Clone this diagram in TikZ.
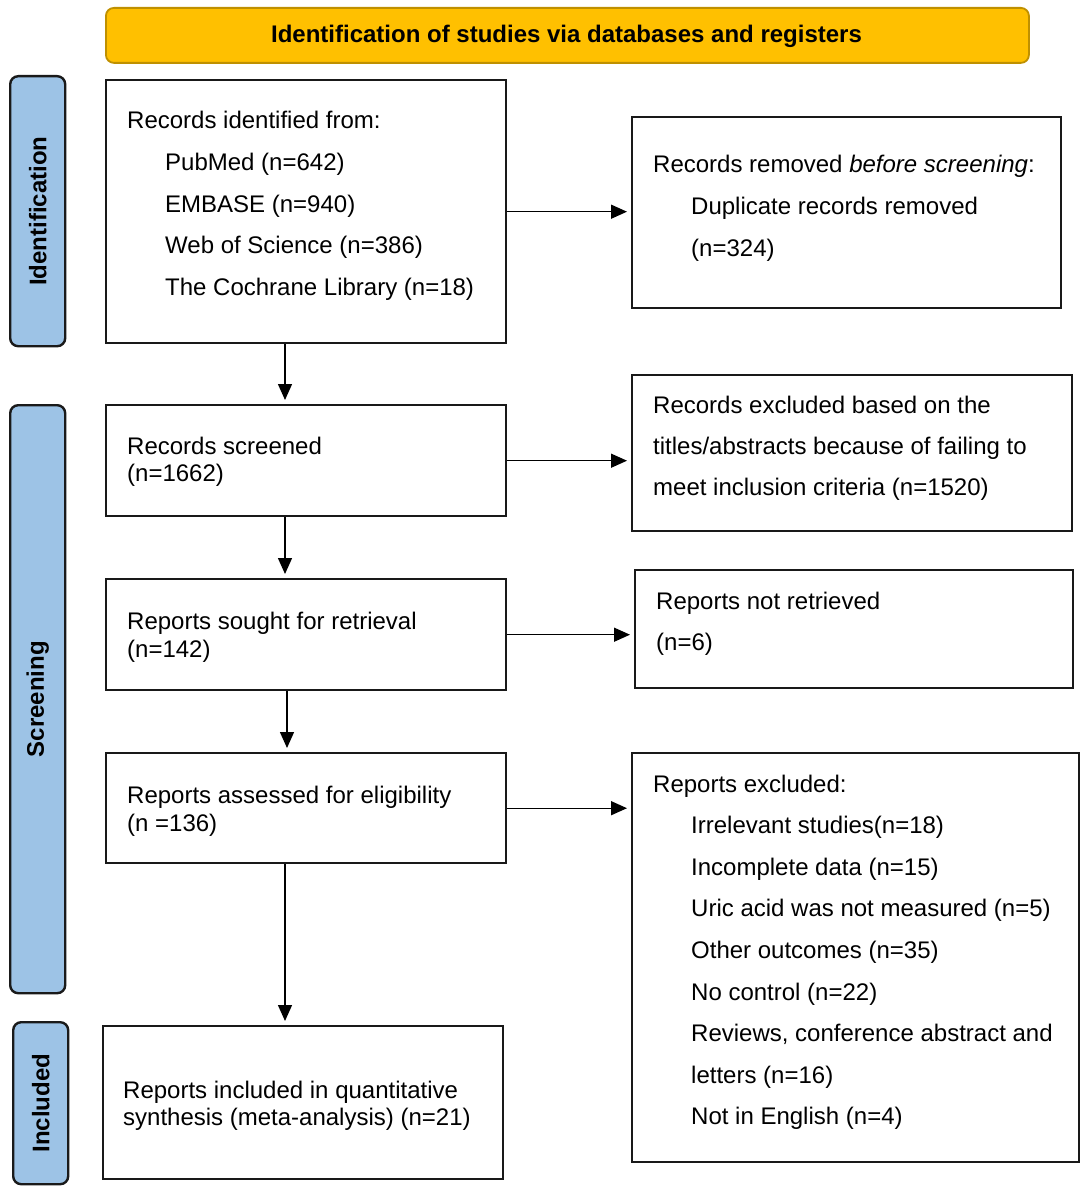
\documentclass[tikz,border=0pt]{standalone}
\usepackage{fontspec}
\setmainfont{Liberation Sans}
\usetikzlibrary{arrows.meta}
\definecolor{bannerfill}{HTML}{FFC000}
\definecolor{bannerline}{HTML}{BF9000}
\definecolor{sidefill}{HTML}{9DC3E6}
\definecolor{sideline}{HTML}{1A1A1A}
\begin{document}
\begin{tikzpicture}[x=1pt,y=-1pt,
  box/.style={draw=black!90, line width=2.4pt, inner sep=0pt, anchor=north west},
  side/.style={draw=sideline, fill=sidefill, line width=2.4pt, rounded corners=8pt, inner sep=0pt, anchor=north west},
  sidetxt/.style={rotate=90, inner sep=0pt, font=\fontsize{24}{28}\selectfont\bfseries},
  banner/.style={draw=bannerline, fill=bannerfill, line width=1.8pt, rounded corners=8pt, inner sep=0pt, anchor=north west},
  txt/.style={anchor=base west, inner sep=0pt, font=\fontsize{24}{28}\selectfont},
  arr/.style={line width=1.4pt, -{Triangle[length=16pt,width=14pt]}, shorten >=4pt}]
\useasboundingbox (0,0) rectangle (1084,1193);

% banner
\node[banner, minimum width=923pt, minimum height=55pt] (ban) at (105,7) {};
\node[inner sep=0pt, anchor=base, font=\fontsize{24}{28}\selectfont\bfseries] (bant) at (566.5,43) {Identification of studies via databases and registers};

% side labels
\node[side, minimum width=55pt, minimum height=270pt] (s1) at (9,75) {};
\node[sidetxt] (s1t) at (s1.center) {Identification};
\node[side, minimum width=55pt, minimum height=588pt] (s2) at (9,404) {};
\node[sidetxt] (s2t) at (s2.center) {Screening};
\node[side, minimum width=55pt, minimum height=162pt] (s3) at (12,1021) {};
\node[sidetxt] (s3t) at (s3.center) {Included};

% boxes
\node[box, minimum width=400pt, minimum height=263pt] (B1) at (105,79) {};
\node[box, minimum width=429pt, minimum height=191pt] (R1) at (631,116) {};
\node[box, minimum width=400pt, minimum height=111pt] (B2) at (105,404) {};
\node[box, minimum width=440pt, minimum height=156pt] (R2) at (631,374) {};
\node[box, minimum width=400pt, minimum height=111pt] (B3) at (105,578) {};
\node[box, minimum width=438pt, minimum height=118pt] (R3) at (634,569) {};
\node[box, minimum width=400pt, minimum height=110pt] (B4) at (105,752) {};
\node[box, minimum width=447pt, minimum height=409pt] (R4) at (631,752) {};
\node[box, minimum width=400pt, minimum height=153pt] (B5) at (102,1025) {};

% texts B1
\node[txt] (b1a) at (127,129) {Records identified from:};
\node[txt] (b1b) at (165,170.5) {PubMed (n=642)};
\node[txt] (b1c) at (165,212) {EMBASE (n=940)};
\node[txt] (b1d) at (165,253.5) {Web of Science (n=386)};
\node[txt] (b1e) at (165,295) {The Cochrane Library (n=18)};
% R1
\node[txt] (r1a) at (653,172) {Records removed \textit{before screening}:};
\node[txt] (r1b) at (691,214) {Duplicate records removed};
\node[txt] (r1c) at (691,256) {(n=324)};
% B2
\node[txt] (b2a) at (127,454) {Records screened};
\node[txt] (b2b) at (127,481) {(n=1662)};
% R2
\node[txt] (r2a) at (653,413) {Records excluded based on the};
\node[txt] (r2b) at (653,454) {titles/abstracts because of failing to};
\node[txt] (r2c) at (653,495) {meet inclusion criteria (n=1520)};
% B3
\node[txt] (b3a) at (127,629) {Reports sought for retrieval};
\node[txt] (b3b) at (127,657) {(n=142)};
% R3
\node[txt] (r3a) at (656,609) {Reports not retrieved};
\node[txt] (r3b) at (656,650) {(n=6)};
% B4
\node[txt] (b4a) at (127,803) {Reports assessed for eligibility};
\node[txt] (b4b) at (127,831) {(n =136)};
% R4
\node[txt] (r4a) at (653,792) {Reports excluded:};
\node[txt] (r4b) at (691,833.5) {Irrelevant studies(n=18)};
\node[txt] (r4c) at (691,875) {Incomplete data (n=15)};
\node[txt] (r4d) at (691,916.5) {Uric acid was not measured (n=5)};
\node[txt] (r4e) at (691,958) {Other outcomes (n=35)};
\node[txt] (r4f) at (691,1000) {No control (n=22)};
\node[txt] (r4g) at (691,1041.5) {Reviews, conference abstract and};
\node[txt] (r4h) at (691,1083) {letters (n=16)};
\node[txt] (r4i) at (691,1124.5) {Not in English (n=4)};
% B5
\node[txt] (b5a) at (123,1098) {Reports included in quantitative};
\node[txt] (b5b) at (123,1125) {synthesis (meta-analysis) (n=21)};

% connectors
\coordinate (ax) at (285,0);
\coordinate (ax2) at (287,0);
\draw[arr] (B1.south -| ax) -- (B2.north -| ax);
\draw[arr] (B2.south -| ax) -- (B3.north -| ax);
\draw[arr] (B3.south -| ax2) -- (B4.north -| ax2);
\draw[arr] (B4.south -| ax) -- (B5.north -| ax);
\draw[arr] (B1.east) -- (B1.east -| R1.west);
\draw[arr] (B2.east) -- (B2.east -| R2.west);
\draw[arr] (B3.east) -- (B3.east -| R3.west);
\draw[arr] (B4.east) -- (B4.east -| R4.west);
\end{tikzpicture}
\end{document}
